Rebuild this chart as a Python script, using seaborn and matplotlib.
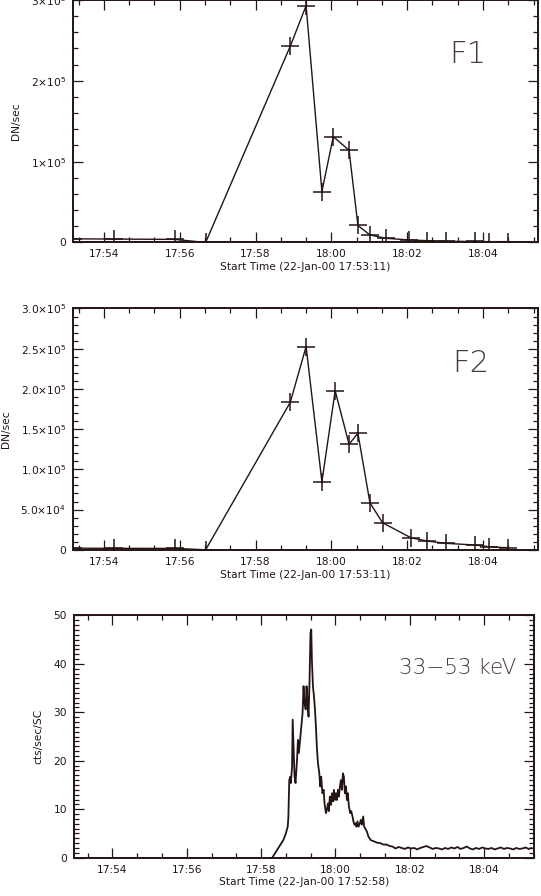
import numpy as np
import pandas as pd
import seaborn as sns
import matplotlib.pyplot as plt
from matplotlib.ticker import MultipleLocator, FuncFormatter

# --- data ------------------------------------------------------------------
# F1 filter light curve (clock time, DN/sec)
f1_time = ['17:53:11', '17:54:16', '17:55:52', '17:56:41', '17:58:55', '17:59:20',
           '17:59:45', '18:00:03', '18:00:28', '18:00:42', '18:01:01', '18:01:26',
           '18:02:03', '18:02:32', '18:03:02', '18:03:48', '18:04:10', '18:04:39']
f1_rate = [4500, 4200, 3800, 0, 2.43e5, 2.93e5,
           0.63e5, 1.31e5, 1.14e5, 0.21e5, 0.093e5, 0.052e5,
           0.031e5, 0.022e5, 0.015e5, 0.012e5, 0.010e5, 0.010e5]

# F2 filter light curve
f2_time = ['17:53:11', '17:54:16', '17:55:52', '17:56:41', '17:58:55', '17:59:20',
           '17:59:45', '18:00:06', '18:00:28', '18:00:42', '18:01:01', '18:01:21',
           '18:02:06', '18:02:32', '18:03:02', '18:03:48', '18:04:10', '18:04:39']
f2_rate = [2000, 1800, 1700, 0, 1.835e5, 2.527e5,
           0.846e5, 1.976e5, 1.312e5, 1.449e5, 0.585e5, 0.336e5,
           0.149e5, 0.108e5, 0.080e5, 0.059e5, 0.037e5, 0.025e5]

# 33-53 keV count rate (seconds after 17:52:58, cts/sec/SC)
hxr_sec = [320, 338, 342, 345, 346, 347.5, 349, 350, 352, 353, 354.5, 356, 357.6,
           360, 361.5, 363, 365, 367, 369, 370.5, 372, 374, 375.4, 377, 378.6, 380,
           381.8, 383, 384, 385.7, 387.3, 389, 390.5, 392, 393.8, 396, 397.5, 399,
           401, 403, 404.4, 406.7, 408.3, 410, 411.5, 413, 414.7, 416.4, 418, 419.6,
           421.2, 422.8, 424.4, 426, 427.6, 429.3, 430.9, 432.5, 434.1, 435.7, 437.3,
           439, 440.5, 442, 443.8, 446, 447.5, 449.6, 451, 452.8, 454.4, 456, 457.6,
           459.3, 461.5, 463, 464.7, 466.8, 468.4, 472.8, 475.4, 479.3, 483.5, 489,
           494.3, 499.6, 505, 509.3,
           514, 519, 524, 529, 534, 539, 544, 549, 554, 559, 564, 569, 574, 579,
           584, 589, 594, 599, 604, 609, 614, 619, 624, 629, 634, 639, 644, 649,
           654, 659, 664, 669, 674, 679, 684, 689, 694, 699, 704, 709, 714, 719,
           724, 729, 734, 739]
hxr_rate = [0, 3.65, 5.0, 6.4, 8.2, 16.0, 16.7, 15.4, 18.8, 28.5, 22.9, 16.7, 15.4,
            20.2, 24.3, 21.6, 24.3, 27.1, 29.9, 35.4, 32.0, 30.6, 35.4, 32.0, 29.1, 35.4,
            46.5, 47.1, 40.9, 35.4, 33.4, 30.6, 27.1, 22.9, 19.5, 17.4, 14.7, 16.7,
            13.3, 14.0, 11.2, 9.2, 9.9, 11.2, 9.6, 12.6, 10.9, 13.3, 11.6, 14.0,
            11.9, 13.3, 11.9, 14.0, 12.6, 14.7, 16.0, 14.0, 17.4, 16.7, 13.3,
            14.7, 11.9, 13.3, 10.5, 9.2, 9.6, 8.5, 7.5, 6.8, 7.1, 6.4, 7.5,
            6.4, 7.1, 7.8, 6.8, 8.5, 6.4, 5.4, 4.3, 3.6, 3.4, 3.1,
            3.0, 2.7, 2.7, 2.4,
            2.3, 1.9, 2.2, 2.0, 1.8, 2.1, 1.9, 2.0, 1.7, 2.0, 2.2, 2.4, 2.1, 1.8,
            2.0, 1.9, 1.7, 2.0, 1.8, 2.1, 1.9, 2.2, 1.8, 2.0, 2.3, 1.9, 1.7, 2.0,
            1.8, 2.1, 1.9, 1.8, 2.0, 1.7, 1.9, 2.1, 1.8, 2.0, 1.9, 1.7, 2.0, 1.8,
            1.9, 2.1, 1.8, 2.0]

f1_yticks = [0, 1e5, 2e5, 3e5]
f1_ylabels = ['0', r'$1{\times}10^{5}$', r'$2{\times}10^{5}$', r'$3{\times}10^{5}$']
f2_yticks = [0, 5e4, 1e5, 1.5e5, 2e5, 2.5e5, 3e5]
f2_ylabels = ['0', r'$5.0{\times}10^{4}$', r'$1.0{\times}10^{5}$', r'$1.5{\times}10^{5}$',
              r'$2.0{\times}10^{5}$', r'$2.5{\times}10^{5}$', r'$3.0{\times}10^{5}$']
hxr_yticks = [0, 10, 20, 30, 40, 50]


def clock(s):
    h, m, sec = [int(p) for p in s.split(':')]
    return h * 3600 + m * 60 + sec


def hhmm(v, pos):
    v = int(round(v))
    return f"{v // 3600:02d}:{(v % 3600) // 60:02d}"


sns.set_style('ticks')
ink = '#241414'
plt.rcParams['font.family'] = ['DejaVu Sans']
plt.rcParams['mathtext.fontset'] = 'dejavusans'
plt.rcParams['mathtext.default'] = 'regular'
plt.rcParams['text.color'] = ink
plt.rcParams['axes.labelcolor'] = ink
plt.rcParams['xtick.color'] = ink
plt.rcParams['ytick.color'] = ink
plt.rcParams['axes.edgecolor'] = ink

fig = plt.figure(figsize=(5.41, 8.96), dpi=100)
ax1 = fig.add_axes([0.1349, 0.7294, 0.8595, 0.2706])
ax2 = fig.add_axes([0.1349, 0.3864, 0.8595, 0.2693])
ax3 = fig.add_axes([0.1368, 0.0428, 0.8503, 0.2703])

df1 = pd.DataFrame({'t': [clock(s) for s in f1_time], 'rate': f1_rate})
df2 = pd.DataFrame({'t': [clock(s) for s in f2_time], 'rate': f2_rate})
t0_hxr = clock('17:52:58')
df3 = pd.DataFrame({'t': [t0_hxr + s for s in hxr_sec], 'rate': hxr_rate})

for ax, df in ((ax1, df1), (ax2, df2)):
    sns.lineplot(data=df, x='t', y='rate', ax=ax, color=ink, lw=1.0,
                 marker='+', markersize=13, markeredgewidth=1.1,
                 markeredgecolor=ink)
sns.lineplot(data=df3, x='t', y='rate', ax=ax3, color=ink, lw=1.3)

t_start = clock('17:53:11')
ax1.set_xlim(t_start, t_start + 736)
ax2.set_xlim(t_start, t_start + 736)
ax3.set_xlim(t0_hxr, t0_hxr + 742.6)

ax1.set_ylim(0, 3e5)
ax2.set_ylim(0, 3e5)
ax3.set_ylim(0, 50)
ax1.set_yticks(f1_yticks, f1_ylabels)
ax2.set_yticks(f2_yticks, f2_ylabels)
ax3.set_yticks(hxr_yticks, [str(v) for v in hxr_yticks])
ax1.yaxis.set_minor_locator(MultipleLocator(2e4))
ax2.yaxis.set_minor_locator(MultipleLocator(1e4))
ax3.yaxis.set_minor_locator(MultipleLocator(1))

for ax in (ax1, ax2, ax3):
    ax.xaxis.set_major_locator(MultipleLocator(120))
    ax.xaxis.set_minor_locator(MultipleLocator(40))
    ax.xaxis.set_major_formatter(FuncFormatter(hhmm))
    ax.tick_params(which='both', direction='in', top=True, right=True,
                   labelsize=7.7, pad=5, width=0.9)
    ax.tick_params(which='major', length=7)
    ax.tick_params(which='minor', length=3.5)
    for sp in ax.spines.values():
        sp.set_linewidth(1.4)
        sp.set_visible(True)

ax1.set_xlabel('Start Time (22-Jan-00 17:53:11)', fontsize=7.7, labelpad=2)
ax2.set_xlabel('Start Time (22-Jan-00 17:53:11)', fontsize=7.7, labelpad=2)
ax3.set_xlabel('Start Time (22-Jan-00 17:52:58)', fontsize=7.7, labelpad=2)
ax1.set_ylabel('DN/sec', fontsize=7.7, labelpad=7)
ax2.set_ylabel('DN/sec', fontsize=7.7, labelpad=7)
ax3.set_ylabel('cts/sec/SC', fontsize=7.7, labelpad=7)

big = dict(ha='center', va='center', color='#4a3a3a', fontweight='light')
ax1.text(0.849, 0.777, 'F1', transform=ax1.transAxes, fontsize=22, **big)
ax2.text(0.856, 0.770, 'F2', transform=ax2.transAxes, fontsize=22, **big)
ax3.text(0.833, 0.783, '33−53 keV', transform=ax3.transAxes, fontsize=15.5, **big)

fig.savefig('out.png', dpi=100)
